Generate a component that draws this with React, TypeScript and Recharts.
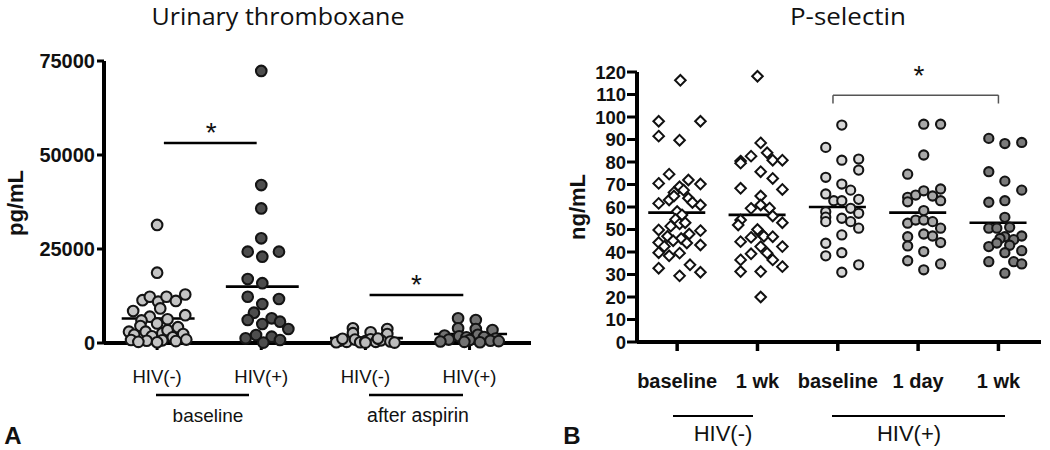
import { ScatterChart, Scatter, XAxis, YAxis, ReferenceLine, ReferenceDot } from "recharts";

type Pt = [number, number];

// ---- panel A: urinary thromboxane (pg/mL) ----
const txCategories = ["HIV(-)", "HIV(+)", "HIV(-)", "HIV(+)"];
const txTicks = [0, 25000, 50000, 75000];
const txMeans = [6500, 15000, 1300, 2400];
const txColors = ["#c4c4c4", "#4d4d4d", "#bcbcbc", "#727272"];

// [offset from group centre, value]
const txBaselineNeg: Pt[] = [
  [0, 31400], [0, 18700],
  [-0.14, 11400], [-0.07, 12300], [0.01, 11000], [0.09, 12300], [0.18, 11200], [0.27, 12900],
  [-0.23, 8500], [0.03, 9200], [-0.07, 7000], [0.1, 6300], [0.27, 7400], [-0.15, 6000],
  [-0.27, 3000], [-0.22, 2200], [-0.16, 4500], [-0.11, 3000], [-0.05, 1800], [0.0, 5200],
  [0.05, 2600], [0.1, 3400], [0.15, 1500], [0.2, 4200], [0.25, 2400], [0.28, 900],
  [-0.25, 800], [-0.1, 600], [0.05, 700], [0.18, 500], [0.0, 200], [-0.18, 300],
];
const txBaselinePos: Pt[] = [
  [0, 72350], [0, 42000], [0, 35800], [0, 27850], [-0.13, 24300], [0.01, 22950], [0.17, 24300],
  [-0.13, 17000], [0.01, 15900], [-0.13, 12300], [0.01, 10370], [0.17, 11700], [-0.07, 8060],
  [-0.13, 6120], [0.01, 5050], [0.1, 6570], [0.18, 5670], [0.26, 3720], [-0.15, 1250],
  [-0.05, 2130], [0.1, 1680], [0.18, 800], [0.02, 100],
];
const txAspirinNeg: Pt[] = [
  [-0.12, 3900], [-0.12, 2600], [0.05, 2850], [0.21, 3700], [0.21, 2400], [-0.25, 600],
  [-0.18, 300], [-0.1, 900], [-0.05, 200], [0.0, 500], [0.05, 1000], [0.1, 300], [0.15, 700],
  [0.24, 400], [0.28, 100], [-0.28, 200], [0.0, 100], [-0.22, 1100], [0.12, 1200],
];
const txAspirinPos: Pt[] = [
  [-0.11, 6560], [0.06, 6120], [-0.11, 3900], [0.06, 3720], [0.22, 3460], [-0.24, 2000],
  [-0.1, 1800], [0.08, 2200], [-0.03, 1500], [0.14, 1600], [0.25, 1200], [-0.2, 900],
  [0.0, 800], [0.2, 600], [-0.05, 300], [0.1, 200], [0.28, 500], [-0.28, 400],
];
const txGroups = [txBaselineNeg, txBaselinePos, txAspirinNeg, txAspirinPos];

// ---- panel B: P-selectin (ng/mL) ----
const psCategories = ["baseline", "1 wk", "baseline", "1 day", "1 wk"];
const psTicks = [0, 10, 20, 30, 40, 50, 60, 70, 80, 90, 100, 110, 120];
const psMeans = [57.5, 56.5, 60, 57.5, 53];
const psColors = ["#ffffff", "#ffffff", "#d6d6d6", "#a8a8a8", "#7a7a7a"];

const psNegBaseline: Pt[] = [
  [0.04, 116.3], [-0.23, 98.1], [0.29, 98.1], [-0.23, 91.5], [0.03, 89.7], [-0.1, 74.6],
  [-0.23, 70.5], [0.14, 72], [0.29, 70.2], [0.03, 69], [-0.04, 66.5], [0.08, 67.5],
  [-0.23, 61.6], [-0.1, 63.1], [-0.04, 64.9], [0.14, 63.9], [0.29, 60.9], [0.19, 62],
  [0.0, 58], [0.06, 56.5], [-0.02, 54.5], [0.03, 52.5], [0.1, 53], [-0.08, 51.5],
  [-0.23, 49.8], [0.29, 49.5], [-0.12, 47], [0.15, 48], [0.05, 46], [-0.05, 45],
  [-0.23, 44.2], [0.29, 43.1], [0.12, 44], [-0.16, 42.5], [-0.23, 39.7], [-0.1, 38.3],
  [0.03, 39.5], [-0.23, 32.8], [0.16, 34.3], [0.03, 29.4], [0.29, 31],
];
const psNegWeek: Pt[] = [
  [0.0, 118.1], [0.04, 88.5], [-0.21, 80.4], [-0.21, 79.5], [-0.08, 82.6], [0.12, 84.1],
  [0.19, 80.8], [0.31, 80.8], [0.04, 75.7], [0.19, 72.7], [-0.21, 68.3], [0.31, 67.8],
  [0.04, 64.9], [-0.08, 59.4], [0.04, 60.9], [0.15, 59.5], [0.19, 56], [-0.21, 54.2],
  [-0.24, 52], [0.31, 53], [0.04, 48.3], [0.0, 50], [0.08, 47], [-0.08, 46.5], [-0.21, 44.6],
  [0.19, 46.8], [0.31, 42.4], [0.04, 42.4], [-0.21, 36.5], [-0.08, 39.2], [0.19, 36.5],
  [0.31, 33.5], [-0.21, 31.3], [0.04, 31.3], [0.04, 20.0], [0.12, 39.5],
];
const psPosBaseline: Pt[] = [
  [0.05, 96.4], [-0.15, 86.5], [0.05, 80.8], [0.26, 81.3], [0.26, 76.4], [-0.15, 73.2],
  [0.05, 70.2], [0.16, 67.5], [-0.15, 65.8], [-0.05, 62.8], [0.05, 62.8], [0.26, 63.4],
  [0.16, 59.4], [-0.15, 57.9], [-0.15, 55.5], [-0.15, 53.5], [0.05, 55.0], [0.26, 57.2],
  [0.16, 53.5], [0.26, 50.6], [0.05, 47.6], [-0.15, 43.9], [-0.15, 38.3], [0.05, 39.7],
  [0.26, 34.3], [0.05, 31.0],
];
const psPosDay: Pt[] = [
  [0.07, 96.8], [0.28, 96.8], [0.07, 83.1], [-0.13, 74.6], [-0.13, 64.3], [-0.03, 65.3],
  [0.07, 67.2], [0.18, 64.9], [0.28, 68.0], [0.28, 62.8], [-0.13, 62.3], [0.07, 58.4],
  [-0.13, 52.8], [-0.03, 54.2], [0.07, 54.2], [0.18, 53.5], [0.28, 50.6], [0.07, 48.0],
  [0.18, 47.1], [0.28, 44.2], [-0.13, 46.8], [-0.13, 42.7], [0.07, 40.2], [-0.13, 36.1],
  [0.28, 34.7], [0.07, 32.1],
];
const psPosWeek: Pt[] = [
  [-0.12, 90.5], [0.08, 88.2], [0.29, 88.7], [-0.12, 75.7], [0.08, 71.5], [0.29, 67.5],
  [-0.12, 62.1], [0.08, 62.8], [0.08, 55.4], [-0.12, 50.6], [-0.02, 50.6], [0.14, 51.0],
  [0.29, 47.1], [0.08, 46.8], [0.02, 46], [0.19, 45.5], [-0.12, 42.4], [-0.02, 44],
  [0.14, 43], [0.08, 39.7], [0.29, 40.6], [-0.12, 35.7], [0.19, 35.7], [0.29, 34.7],
  [0.08, 30.6],
];
const psGroups = [psNegBaseline, psNegWeek, psPosBaseline, psPosDay, psPosWeek];

const toRows = (pts: Pt[], group: number) => pts.map(([dx, v]) => ({ x: group + dx, y: v }));

const ARIAL = "'Liberation Sans', Arial, sans-serif";
const TITLE_FONT = "'Open Sans', sans-serif";

const makeCircle = (fill: string, r: number) => (p: any) => (
  <circle cx={p.cx} cy={p.cy} r={r} fill={fill} stroke="#141414" strokeWidth={2.1} />
);

const Diamond = (p: any) => {
  const h = 5.3;
  const { cx, cy } = p;
  return (
    <polygon
      points={`${cx},${cy - h} ${cx + h},${cy} ${cx},${cy + h} ${cx - h},${cy}`}
      fill="#fff"
      stroke="#111"
      strokeWidth={2}
    />
  );
};

const Star = (p: any) => (
  <text x={p.cx} y={p.cy + 16} textAnchor="middle" fontFamily={ARIAL} fontSize={28} fill="#111">
    *
  </text>
);

const TxTick = (p: any) => (
  <text x={p.x} y={p.y + 31} textAnchor="middle" fontFamily={ARIAL} fontSize={18.5} fill="#111">
    {txCategories[p.payload.value]}
  </text>
);

const PsTick = (p: any) => (
  <text x={p.x} y={p.y + 35} textAnchor="middle" fontFamily={ARIAL} fontSize={20} fontWeight="bold" fill="#111">
    {psCategories[p.payload.value]}
  </text>
);

const ThromboxaneChart = () => (
  <ScatterChart width={531} height={450} margin={{ top: 61, right: 0, bottom: 0, left: 0 }}>
    <XAxis
      type="number"
      dataKey="x"
      domain={[-0.51, 3.59]}
      ticks={[0, 1, 2, 3]}
      interval={0}
      height={107}
      tickSize={7}
      axisLine={{ stroke: "#000", strokeWidth: 4 }}
      tickLine={{ stroke: "#000", strokeWidth: 3 }}
      tick={TxTick}
    />
    <YAxis
      type="number"
      dataKey="y"
      domain={[0, 75000]}
      ticks={txTicks}
      interval={0}
      width={104}
      tickSize={7}
      tickMargin={2}
      axisLine={{ stroke: "#000", strokeWidth: 4 }}
      tickLine={{ stroke: "#000", strokeWidth: 3 }}
      tick={{ fill: "#111", fontFamily: ARIAL, fontSize: 20, fontWeight: "bold" }}
    />
    {txGroups.map((g, i) => (
      <Scatter
        key={i}
        data={toRows(g, i)}
        isAnimationActive={false}
        shape={makeCircle(txColors[i], 5.3)}
      />
    ))}
    {txMeans.map((m, i) => (
      <ReferenceLine
        key={"m" + i}
        segment={[{ x: i - 0.34, y: m }, { x: i + 0.36, y: m }]}
        stroke="#000"
        strokeWidth={2.6}
      />
    ))}
    <ReferenceLine segment={[{ x: 0.065, y: 53200 }, { x: 0.956, y: 53200 }]} stroke="#000" strokeWidth={2.6} />
    <ReferenceDot x={0.52} y={57600} r={0} shape={Star} />
    <ReferenceLine segment={[{ x: 2.04, y: 12770 }, { x: 2.94, y: 12770 }]} stroke="#000" strokeWidth={2.6} />
    <ReferenceDot x={2.49} y={17290} r={0} shape={Star} />
  </ScatterChart>
);

const SelectinChart = () => (
  <ScatterChart width={519} height={450} margin={{ top: 72, right: 9, bottom: 0, left: 0 }}>
    <XAxis
      type="number"
      dataKey="x"
      domain={[-0.5, 4.53]}
      ticks={[0, 1, 2, 3, 4]}
      interval={0}
      height={108}
      tickSize={9}
      axisLine={{ stroke: "#000", strokeWidth: 4 }}
      tickLine={{ stroke: "#000", strokeWidth: 3.5 }}
      tick={PsTick}
    />
    <YAxis
      type="number"
      dataKey="y"
      domain={[0, 120]}
      ticks={psTicks}
      interval={0}
      width={106}
      tickSize={10}
      tickMargin={1}
      axisLine={{ stroke: "#000", strokeWidth: 4 }}
      tickLine={{ stroke: "#000", strokeWidth: 3 }}
      tick={{ fill: "#111", fontFamily: ARIAL, fontSize: 18.5, fontWeight: "bold" }}
    />
    {psGroups.map((g, i) => (
      <Scatter
        key={i}
        data={toRows(g, i)}
        isAnimationActive={false}
        shape={i < 2 ? Diamond : makeCircle(psColors[i], 4.6)}
      />
    ))}
    {psMeans.map((m, i) => (
      <ReferenceLine
        key={"m" + i}
        segment={[{ x: i - 0.36, y: m }, { x: i + 0.35, y: m }]}
        stroke="#000"
        strokeWidth={2.6}
      />
    ))}
    <ReferenceLine segment={[{ x: 1.94, y: 109.7 }, { x: 4, y: 109.7 }]} stroke="#555" strokeWidth={1.5} />
    <ReferenceLine segment={[{ x: 1.94, y: 109.7 }, { x: 1.94, y: 106 }]} stroke="#555" strokeWidth={1.5} />
    <ReferenceLine segment={[{ x: 4, y: 109.7 }, { x: 4, y: 106 }]} stroke="#555" strokeWidth={1.5} />
    <ReferenceDot x={3.01} y={121.4} r={0} ifOverflow="visible" shape={Star} />
  </ScatterChart>
);

export default function App() {
  return (
    <div style={{ position: "absolute", left: 0, top: 0, width: 1050, height: 450, background: "#fff" }}>
      <div style={{ position: "absolute", left: 0, top: 0 }}>
        <ThromboxaneChart />
      </div>
      <div style={{ position: "absolute", left: 531, top: 0 }}>
        <SelectinChart />
      </div>
      <svg
        width={1050}
        height={450}
        style={{ position: "absolute", left: 0, top: 0, pointerEvents: "none" }}
      >
        <text
          x={278}
          y={25}
          textAnchor="middle"
          fontFamily={TITLE_FONT}
          fontSize={23}
          textLength={253}
          lengthAdjust="spacingAndGlyphs"
          fill="#111"
        >
          Urinary thromboxane
        </text>
        <text
          x={848}
          y={25}
          textAnchor="middle"
          fontFamily={TITLE_FONT}
          fontSize={23}
          textLength={116}
          lengthAdjust="spacingAndGlyphs"
          fill="#111"
        >
          P-selectin
        </text>
        <text
          x={15}
          y={203}
          transform="rotate(-90 15 203)"
          textAnchor="middle"
          dominantBaseline="central"
          fontFamily={ARIAL}
          fontSize={22}
          fontWeight="bold"
          fill="#111"
        >
          pg/mL
        </text>
        <text
          x={577}
          y={207}
          transform="rotate(-90 577 207)"
          textAnchor="middle"
          dominantBaseline="central"
          fontFamily={ARIAL}
          fontSize={22}
          fontWeight="bold"
          fill="#111"
        >
          ng/mL
        </text>
        <line x1={156} y1={395} x2={249} y2={395} stroke="#000" strokeWidth={2.5} />
        <line x1={369} y1={395} x2={463} y2={395} stroke="#000" strokeWidth={2.5} />
        <text x={208} y={422} textAnchor="middle" fontFamily={ARIAL} fontSize={19} fill="#111">baseline</text>
        <text x={418} y={422} textAnchor="middle" fontFamily={ARIAL} fontSize={19.5} fill="#111">after aspirin</text>
        <text x={13} y={444} textAnchor="middle" fontFamily={ARIAL} fontSize={24} fontWeight="bold" fill="#111">A</text>
        <line x1={673} y1={416} x2={753} y2={416} stroke="#000" strokeWidth={2} />
        <line x1={832} y1={416} x2={1005} y2={416} stroke="#000" strokeWidth={2} />
        <text x={723} y={441} textAnchor="middle" fontFamily={ARIAL} fontSize={22} fill="#111">HIV(-)</text>
        <text x={909} y={441} textAnchor="middle" fontFamily={ARIAL} fontSize={22} fill="#111">HIV(+)</text>
        <text x={572} y={444} textAnchor="middle" fontFamily={ARIAL} fontSize={24} fontWeight="bold" fill="#111">B</text>
      </svg>
    </div>
  );
}
